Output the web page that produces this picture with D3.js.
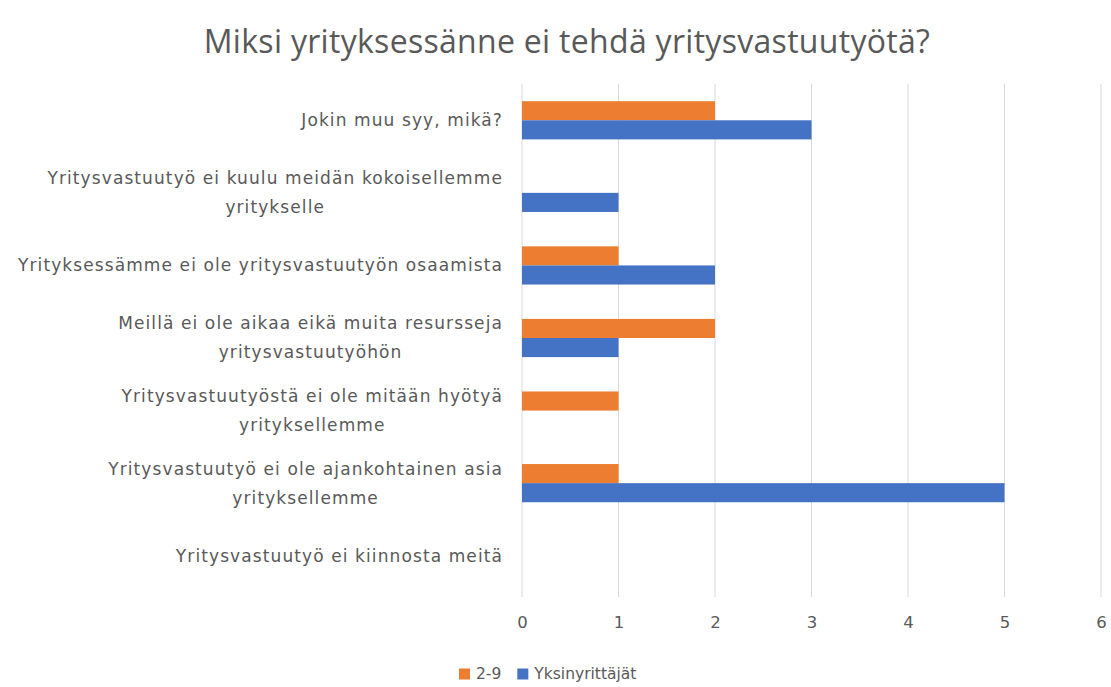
<!DOCTYPE html>
<html lang="fi">
<head>
  <meta charset="UTF-8">
  <title>Miksi yrityksessänne ei tehdä yritysvastuutyötä?</title>
  <style>
    body { margin: 0; background: #fff; }
  </style>
</head>
<body>
  <svg id="mainsvg" width="1111" height="687"></svg>
  <script src="https://cdn.jsdelivr.net/npm/d3@7/dist/d3.min.js"></script>
  <script>
    // data, top category first
    const categories = [
      'Jokin muu syy, mikä?',
      'Yritysvastuutyö ei kuulu meidän kokoisellemme yritykselle',
      'Yrityksessämme ei ole yritysvastuutyön osaamista',
      'Meillä ei ole aikaa eikä muita resursseja yritysvastuutyöhön',
      'Yritysvastuutyöstä ei ole mitään hyötyä yrityksellemme',
      'Yritysvastuutyö ei ole ajankohtainen asia yrityksellemme',
      'Yritysvastuutyö ei kiinnosta meitä'
    ]
    const seriesNames = ['2-9', 'Yksinyrittäjät']
    const values29 = [2, 0, 1, 2, 1, 1, 0]
    const valuesYksin = [3, 1, 2, 1, 0, 5, 0]
    const xTicks = [0, 1, 2, 3, 4, 5, 6]
    const colors = ['#ED7D31', '#4472C4']
    const title = 'Miksi yrityksessänne ei tehdä yritysvastuutyötä?'

    const svg = d3.select('#mainsvg')
    const margin = { top: 84, left: 522 }
    const plotBottom = 592
    const textColor = '#595959'
    const labelFont = 'DejaVu Sans, Verdana, sans-serif'
    const labelSize = 17
    const labelSpacing = 1.1

    const xScale = d3.scaleLinear().domain([0, 6]).range([margin.left, 1101])
    const yScale = d3.scaleBand().domain(categories).range([margin.top, plotBottom])
    const ySub = d3.scaleBand().domain(seriesNames)
      .range([0, yScale.bandwidth()]).paddingOuter(0.9).paddingInner(0)

    // vertical gridlines
    svg.append('g')
      .selectAll('line')
      .data(xTicks)
      .join('line')
      .attr('x1', d => xScale(d)).attr('x2', d => xScale(d))
      .attr('y1', margin.top).attr('y2', plotBottom + 5)
      .attr('stroke', '#D9D9D9').attr('stroke-width', 1)

    // bars
    const series = [values29, valuesYksin]
    series.forEach((vals, si) => {
      svg.append('g')
        .selectAll('rect')
        .data(vals.map((v, i) => ({ cat: categories[i], v })))
        .join('rect')
        .attr('x', xScale(0))
        .attr('y', d => yScale(d.cat) + ySub(seriesNames[si]))
        .attr('width', d => xScale(d.v) - xScale(0))
        .attr('height', ySub.bandwidth())
        .attr('fill', colors[si])
    })

    // x axis labels
    const xAxis = d3.axisBottom(xScale).tickValues(xTicks).tickFormat(d3.format('d'))
      .tickSize(0).tickPadding(0)
    const xg = svg.append('g').attr('transform', `translate(0, ${plotBottom + 21})`).call(xAxis)
    xg.select('.domain').remove()
    xg.selectAll('text')
      .attr('font-family', labelFont).attr('font-size', 16.5)
      .attr('fill', textColor).attr('dy', '0.9em')

    function styleLabel(sel) {
      return sel.attr('font-family', labelFont).attr('font-size', labelSize)
        .attr('letter-spacing', labelSpacing).attr('fill', textColor)
    }
    function measure(str) {
      const t = styleLabel(svg.append('text')).text(str)
      const w = t.node().getComputedTextLength()
      t.remove()
      return w
    }

    // category labels, wrapped and centred within a right-aligned block
    const maxW = 505
    const lineH = 29
    const labelG = svg.append('g')
    categories.forEach(cat => {
      const lines = []
      let cur = ''
      cat.split(' ').forEach(w => {
        const test = cur ? cur + ' ' + w : w
        if (measure(test) > maxW && cur) {
          lines.push(cur)
          cur = w
        } else {
          cur = test
        }
      })
      lines.push(cur)

      const blockW = d3.max(lines, measure)
      const cx = 503 - blockW / 2
      const cy = yScale(cat) + yScale.bandwidth() / 2
      lines.forEach((l, i) => {
        styleLabel(labelG.append('text'))
          .attr('x', cx)
          .attr('y', cy + (i - (lines.length - 1) / 2) * lineH)
          .attr('dy', '0.35em')
          .attr('text-anchor', 'middle')
          .text(l)
      })
    })

    // title
    svg.append('text')
      .attr('x', 567).attr('y', 42)
      .attr('dy', '0.35em')
      .attr('text-anchor', 'middle')
      .attr('font-family', 'Open Sans, sans-serif')
      .attr('font-size', 32)
      .attr('letter-spacing', 0.3)
      .attr('fill', textColor)
      .text(title)

    // legend
    const legend = svg.append('g').attr('transform', 'translate(459, 674)')
    let lx = 0
    seriesNames.forEach((name, i) => {
      legend.append('rect').attr('x', lx).attr('y', -5.5).attr('width', 11).attr('height', 11).attr('fill', colors[i])
      const t = legend.append('text')
        .attr('x', lx + 17).attr('y', 0).attr('dy', '0.35em')
        .attr('font-family', labelFont).attr('font-size', 15.5)
        .attr('fill', textColor)
        .text(name)
      lx += 17 + t.node().getComputedTextLength() + 16
    })
  </script>
</body>
</html>
